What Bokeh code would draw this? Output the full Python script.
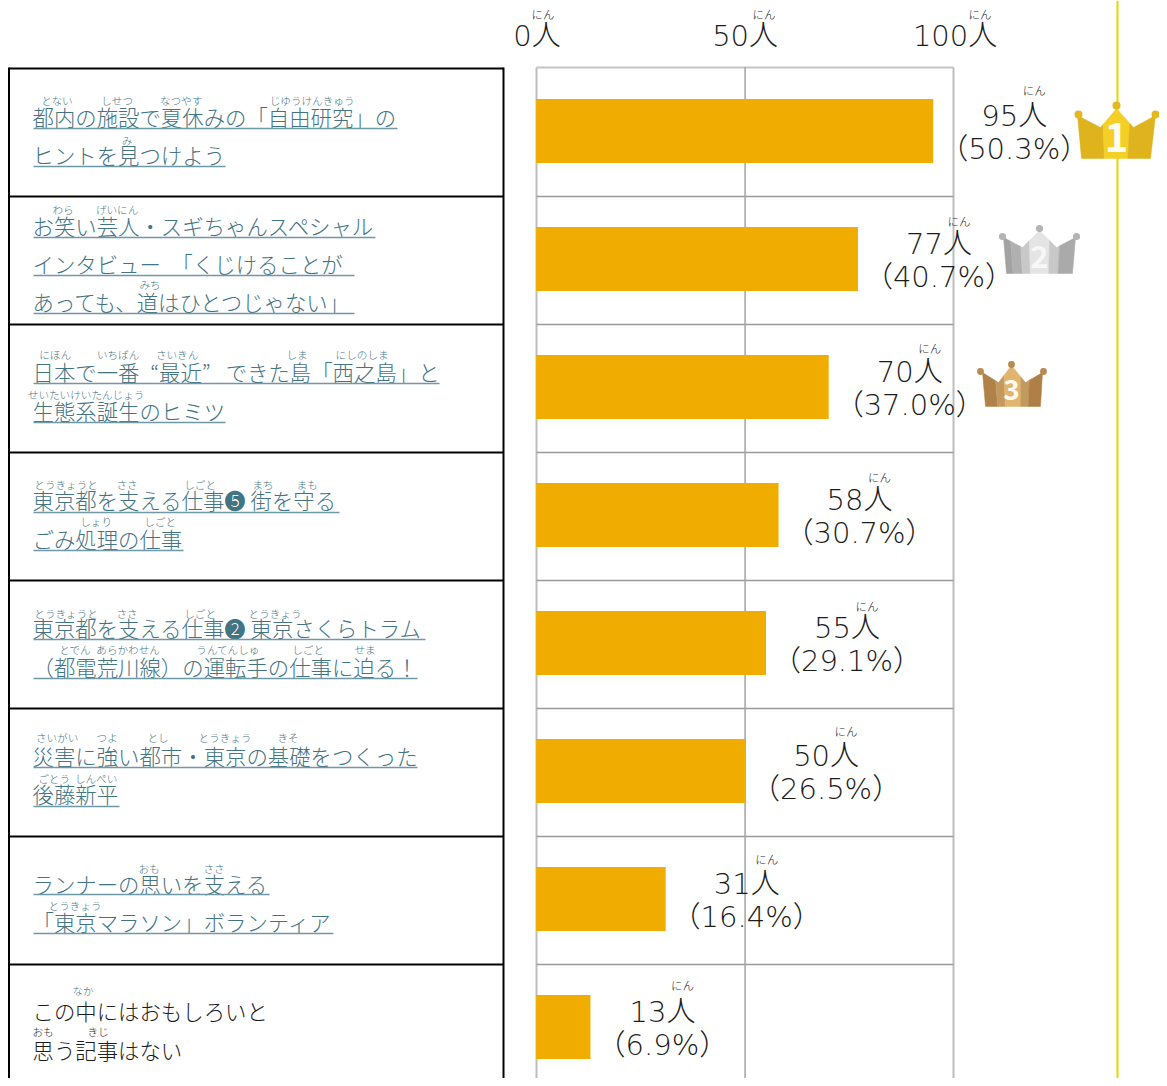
from bokeh.plotting import figure
from bokeh.models import Range1d, ColumnDataSource
from bokeh.core.properties import value
from bokeh.embed import file_html
from bokeh.resources import INLINE
import numpy as np

# ---------- data ----------
counts = [95, 77, 70, 58, 55, 50, 31, 13]
shares = ["50.3", "40.7", "37.0", "30.7", "29.1", "26.5", "16.4", "6.9"]
tick_values = [0, 50, 100]
tick_labels = ["0人", "50人", "100人"]
ranks = list(range(8))

title_lines = [
    ["都内の施設で夏休みの「自由研究」の", "ヒントを見つけよう"],
    ["お笑い芸人・スギちゃんスペシャル", "インタビュー　「くじけることが", "あっても、道はひとつじゃない」"],
    ["日本で一番\u2002“最近”\u2002\u2009できた島「西之島」と", "生態系誕生のヒミツ"],
    ["東京都を支える仕事❺ 街を守る", "ごみ処理の仕事"],
    ["東京都を支える仕事❷ 東京さくらトラム", "（都電荒川線）の運転手の仕事に迫る！"],
    ["災害に強い都市・東京の基礎をつくった", "後藤新平"],
    ["ランナーの思いを支える", "「東京マラソン」ボランティア"],
    ["この中にはおもしろいと", "思う記事はない"],
]
ruby = [
    [["とない", "しせつ", "なつやす", "じゆうけんきゅう"], ["み"]],
    [["わら", "げいにん"], [], ["みち"]],
    [["にほん", "いちばん", "さいきん", "しま", "にしのしま"], ["せいたいけいたんじょう"]],
    [["とうきょうと", "ささ", "しごと", "まち", "まも"], ["しょり", "しごと"]],
    [["とうきょうと", "ささ", "しごと", "とうきょう"], ["とでん", "あらかわせん", "うんてんしゅ", "しごと", "せま"]],
    [["さいがい", "つよ", "とし", "とうきょう", "きそ"], ["ごとう", "しんぺい"]],
    [["おも", "ささ"], ["とうきょう"]],
    [["なか"], ["おも", "きじ"]],
]

# ---------- layout (page pixels) ----------
W, H = 1159, 1078
LEFT, TOP = 0, 0
X0_PX, PX_PER_PERSON = 535.6, 4.18
Y0_PX, PX_PER_RANK = 130.6, 128.0
line_y = [[116, 154], [225, 263, 301], [371, 410], [499, 538], [627, 666], [755, 793], [883, 921], [1010, 1049]]
under_y = [[128, 166], [237, 275, 313], [383, 422], [512, 550], [639, 678], [767, 806], [894, 933]]
under_end = [[397, 225], [375, 354, 354], [439, 225], [339, 183], [425, 417], [417, 119], [269, 333]]
ruby_y = [[100, 140], [209, 247, 284], [354, 394], [484, 521], [613, 649], [737, 778], [868, 905], [990, 1031]]
ruby_x = [
    [[56.6, 116.6, 180.6, 311.6], [126.6]],
    [[62.6, 116.6], [], [149.6]],
    [[54.6, 117.6, 176.6, 296.6, 361.6], [85.6]],
    [[65.6, 126.6, 199.6, 262.6, 306.6], [95.6, 159.6]],
    [[65.6, 126.6, 199.6, 274.6], [74.6, 127.6, 227.6, 307.6, 364.6]],
    [[56.6, 106.6, 157.6, 224.6, 287.6], [53.6, 95.6]],
    [[148.6, 213.6], [74.6]],
    [[82.6], [42.6, 97.6]],
]
label_dx = [81, 81, 81, 81, 81, 81, 81, 72]
unit_dy = [-41, -38, -39, -38, -37, -40, -40, -42]
SEP_Y = [68, 196, 324, 452, 580, 708, 836, 964]
FONT = value("Noto Sans CJK JP Light, Noto Sans CJK JP")
NUM_FONT = value("DejaVu Sans Light, Noto Sans CJK JP Light, Noto Sans CJK JP")
TEAL, DARK = "#437484", "#1c1c1c"

p = figure(width=W, height=H, output_backend="svg", toolbar_location=None,
           x_axis_type=None, y_axis_type=None, min_border=0, outline_line_color=None,
           x_range=Range1d((LEFT - X0_PX) / PX_PER_PERSON, (LEFT + W - X0_PX) / PX_PER_PERSON),
           y_range=Range1d((TOP + H - Y0_PX) / PX_PER_RANK, (TOP - Y0_PX) / PX_PER_RANK))
p.grid.visible = False
p.extra_x_ranges["px"] = Range1d(LEFT, LEFT + W)
p.extra_y_ranges["px"] = Range1d(TOP + H, TOP)
PX = dict(x_range_name="px", y_range_name="px")

# yellow rail
p.segment([1117], [0], [1117], [1086], line_color="#e3d900", line_width=2, **PX)

# plot box
p.segment([536, 953], [67, 67], [536, 953], [1086, 1086], line_color="#bdbdbd", line_width=2, **PX)
p.segment([536], [67], [953], [67], line_color="#c4c4c4", line_width=2, **PX)
p.segment(x0=[536] * 7, y0=SEP_Y[1:], x1=[953] * 7, y1=SEP_Y[1:], line_color="#9c9c9c", line_width=1.6, **PX)
p.segment(x0=[50], y0=[-0.5], x1=[50], y1=[8], line_color="#a8a8a8", line_width=1.6)

# bars
p.hbar(y=ranks, left=0, right=counts, height=0.5, fill_color="#f0ad00", line_color=None)

# table
p.segment(x0=[8.5] * 8, y0=SEP_Y, x1=[503] * 8, y1=SEP_Y, line_color="black", line_width=2, **PX)
p.segment([8.5, 503], [67, 67], [8.5, 503], [1086, 1086], line_color="black", line_width=2, **PX)

# titles, underlines, ruby
for r, lines in enumerate(title_lines):
    col = TEAL if r < 7 else DARK
    for i, t in enumerate(lines):
        p.text(x=[32], y=[line_y[r][i]], text=[t], text_font=FONT, text_font_size="21.4px",
               text_color=col, text_baseline="middle", text_align="left", **PX)
        if r < 7:
            p.segment([33], [under_y[r][i]], [under_end[r][i]], [under_y[r][i]],
                      line_color="#6f99a7", line_width=1.3, **PX)
        rb = ruby[r][i]
        if rb:
            p.text(x=ruby_x[r][i], y=[ruby_y[r][i]] * len(rb), text=rb, text_font=FONT,
                   text_font_size="10.6px", text_color=TEAL if (r < 7 or i == 0) else DARK,
                   text_baseline="middle", text_align="center", **PX)

# top axis labels
p.text(x=tick_values, y=[-0.75] * 3, text=tick_labels, text_font=NUM_FONT, text_font_size="29px",
       text_color=DARK, text_baseline="middle", text_align="center", x_offset=[1, 0, 1], y_offset=[1] * 3)
p.text(x=tick_values, y=[-0.75] * 3, text=["にん"] * 3, text_font=FONT, text_font_size="11.5px",
       text_color=DARK, text_baseline="middle", text_align="center", x_offset=[7, 19, 26], y_offset=[-21] * 3)

# value labels
src = ColumnDataSource(dict(x=counts, y=ranks,
                            n=[f"{c}人" for c in counts],
                            s=[f"（{s}%）" for s in shares],
                            r=["にん"] * 8,
                            dx=label_dx, rx=[d + 20 for d in label_dx], ry=unit_dy))
p.text(x="x", y="y", text="n", source=src, x_offset="dx", y_offset=-15, text_font=NUM_FONT,
       text_font_size="29px", text_color=DARK, text_baseline="middle", text_align="center")
p.text(x="x", y="y", text="s", source=src, x_offset="dx", y_offset=18, text_font=NUM_FONT,
       text_font_size="29px", text_color=DARK, text_baseline="middle", text_align="center")
p.text(x="x", y="y", text="r", source=src, x_offset="rx", y_offset="ry", text_font=FONT,
       text_font_size="11.5px", text_color=DARK, text_baseline="middle", text_align="center")


# crowns
def crown(tl, tr, bl, br, vl, peak, vr, balls, ball_r, stripes, ball_col, digit, digit_y, digit_size, digit_col):
    top_x = [tl[0], vl[0], peak[0], vr[0], tr[0]]
    top_y = [tl[1], vl[1], peak[1], vr[1], tr[1]]
    for (u0, u1, col) in stripes:
        xa = tl[0] + (tr[0] - tl[0]) * u0
        xb = tl[0] + (tr[0] - tl[0]) * u1
        inner = [(x, y) for x, y in zip(top_x, top_y) if xa < x < xb]
        px = [xa] + [q[0] for q in inner] + [xb, bl[0] + (br[0] - bl[0]) * u1, bl[0] + (br[0] - bl[0]) * u0]
        py = [np.interp(xa, top_x, top_y)] + [q[1] for q in inner] + [np.interp(xb, top_x, top_y), bl[1], bl[1]]
        p.patch(px, py, fill_color=col, line_color=col, line_width=0.5, **PX)
    p.circle(x=[b[0] for b in balls], y=[b[1] for b in balls], radius=ball_r,
             fill_color=ball_col, line_color=None, **PX)
    p.text(x=[peak[0]], y=[digit_y], text=[digit], text_font=value("Noto Sans CJK JP"), text_font_style="bold",
           text_font_size=digit_size, text_color=digit_col, text_baseline="middle", text_align="center", **PX)


crown((1077, 115), (1155, 115), (1081, 158), (1150, 158), (1100, 127), (1116, 108), (1133, 127),
      [(1078, 114), (1116, 105), (1155, 114)], 4,
      [(0, 0.33, "#deb31d"), (0.33, 0.67, "#f4cf28"), (0.67, 1, "#deb31d")], "#e3b820",
      "1", 136, "40px", "#fffdf2")
crown((1003, 237), (1075, 237), (1006, 273), (1072, 273), (1022, 247), (1039, 230), (1056, 247),
      [(1002, 236), (1039, 228), (1076, 236)], 3.6,
      [(0, 0.1, "#a2a2a2"), (0.1, 0.24, "#b0b0b0"), (0.24, 0.36, "#c8c8c8"), (0.36, 0.64, "#e4e4e4"),
       (0.64, 0.78, "#c8c8c8"), (0.78, 1, "#aaaaaa")], "#b4b4b4",
      "2", 256, "31px", "#f7f7f7")
crown((982, 372), (1042, 372), (985, 406), (1040, 406), (998, 382), (1011, 365), (1025, 382),
      [(980, 371), (1011, 364), (1043, 371)], 3.4,
      [(0, 0.22, "#b0824a"), (0.22, 0.36, "#c39a5e"), (0.36, 0.64, "#e0b56f"),
       (0.64, 0.78, "#c39a5e"), (0.78, 1, "#ae8047")], "#b98a4f",
      "3", 389, "28px", "#fffaf0")

open("out.html", "w").write(file_html(p, INLINE))
